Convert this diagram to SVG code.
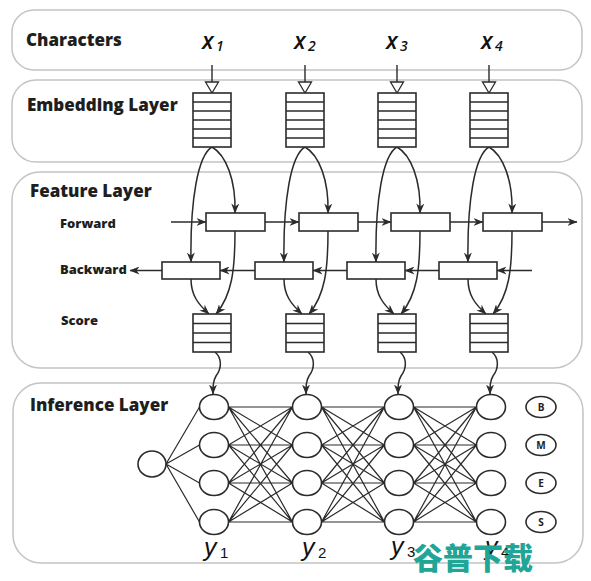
<svg xmlns="http://www.w3.org/2000/svg" width="591" height="581" viewBox="0 0 591 581">
<defs>
<style>
.panel{fill:#fff;stroke:#c4c4c4;stroke-width:1.5}
.lbl{font-family:"Open Sans","Liberation Sans",sans-serif;font-weight:800;fill:#1e1e1e}
.big{font-size:17px}
.sm{font-size:13px}
.box{fill:#fff;stroke:#2b2b2b;stroke-width:1.6}
.ln{fill:none;stroke:#2b2b2b;stroke-width:1.4}
.arr{fill:none;stroke:#2b2b2b;stroke-width:1.5;marker-end:url(#ah)}
.tri{fill:#fff;stroke:#2b2b2b;stroke-width:1.3}
.node{fill:#fff;stroke:#2b2b2b;stroke-width:1.6}
.mesh{fill:none;stroke:#2b2b2b;stroke-width:1.2}
.xv{font-family:"Open Sans","Liberation Sans",sans-serif;font-style:italic;font-weight:600;fill:#111}
.var{font-family:"Liberation Sans",Arial,sans-serif;font-style:italic;fill:#111}
.sub{font-family:"Liberation Sans",Arial,sans-serif;font-size:15px;fill:#111}
.st{font-family:"Open Sans","Liberation Sans",sans-serif;font-weight:bold;font-size:10px;fill:#1e1e1e;text-anchor:middle}
.wm{font-family:"Noto Sans CJK SC",sans-serif;font-weight:900;font-size:30px;fill:#21a597}
</style>
<marker id="ah" markerUnits="userSpaceOnUse" markerWidth="10" markerHeight="8" viewBox="0 0 10 8" refX="9.5" refY="4" orient="auto">
<path d="M0,0 L10,4 L0,8 L3,4 z" fill="#2b2b2b"/>
</marker>
</defs>
<rect width="591" height="581" fill="#fff"/>

<g id="panels">
<rect class="panel" x="12" y="10" width="570" height="60" rx="22"/>
<rect class="panel" x="12" y="80" width="570" height="82" rx="24"/>
<rect class="panel" x="12" y="172" width="570" height="196" rx="28"/>
<rect class="panel" x="13" y="383" width="570" height="180" rx="28"/>
<text class="lbl big" x="26" y="46">Characters</text>
<text class="lbl big" x="27" y="111">Embedding Layer</text>
<text class="lbl big" x="30" y="197">Feature Layer</text>
<text class="lbl sm" x="60" y="228">Forward</text>
<text class="lbl sm" x="60" y="274">Backward</text>
<text class="lbl sm" x="61" y="325">Score</text>
<text class="lbl big" x="30" y="411">Inference Layer</text>
</g>

<g id="connectors">
<path class="ln" d="M212 65V82M305 65V82M397 65V82M489 65V82"/>
<polygon class="tri" points="205.5,82 218.5,82 212,93"/>
<polygon class="tri" points="298.5,82 311.5,82 305,93"/>
<polygon class="tri" points="390.5,82 403.5,82 397,93"/>
<polygon class="tri" points="482.5,82 495.5,82 489,93"/>
<path class="arr" d="M212 147C198 155 190 200 191 262"/>
<path class="arr" d="M212 147C226 155 236 180 235 213"/>
<path class="arr" d="M305 147C291 155 283 200 284 262"/>
<path class="arr" d="M305 147C319 155 329 180 328 213"/>
<path class="arr" d="M397 147C383 155 375 200 376 262"/>
<path class="arr" d="M397 147C411 155 421 180 420 213"/>
<path class="arr" d="M489 147C475 155 467 200 468 262"/>
<path class="arr" d="M489 147C503 155 513 180 512 213"/>
<path class="arr" d="M171 222H206"/>
<path class="arr" d="M265 222H299"/>
<path class="arr" d="M358 222H391"/>
<path class="arr" d="M450 222H483"/>
<path class="arr" d="M542 222H577"/>
<path class="arr" d="M532 270.5H497"/>
<path class="arr" d="M439 270.5H405"/>
<path class="arr" d="M347 270.5H313"/>
<path class="arr" d="M255 270.5H220"/>
<path class="arr" d="M162 270.5H130"/>
<path class="arr" d="M235 231C235 270 232 295 216 314"/>
<path class="arr" d="M191 279C191 295 198 304 209 314"/>
<path class="arr" d="M328 231C328 270 325 295 309 314"/>
<path class="arr" d="M284 279C284 295 291 304 302 314"/>
<path class="arr" d="M420 231C420 270 417 295 401 314"/>
<path class="arr" d="M376 279C376 295 383 304 394 314"/>
<path class="arr" d="M512 231C512 270 509 295 493 314"/>
<path class="arr" d="M468 279C468 295 475 304 486 314"/>
<path class="arr" d="M215 352C222 358 222 368 216 376C213 381 213 386 213 394"/>
<path class="arr" d="M308 352C315 358 315 368 309 376C306 381 306 386 306 394"/>
<path class="arr" d="M400 352C407 358 407 368 401 376C398 381 398 386 398 394"/>
<path class="arr" d="M492 352C499 358 499 368 493 376C490 381 490 386 490 394"/>
<path class="mesh" d="M166 464L199.5 407M166 464L199.5 445M166 464L199.5 483M166 464L199.5 522"/>
<path class="mesh" d="M228.5 407L292.5 407M228.5 407L292.5 445M228.5 407L292.5 483M228.5 407L292.5 522M228.5 445L292.5 407M228.5 445L292.5 445M228.5 445L292.5 483M228.5 445L292.5 522M228.5 483L292.5 407M228.5 483L292.5 445M228.5 483L292.5 483M228.5 483L292.5 522M228.5 522L292.5 407M228.5 522L292.5 445M228.5 522L292.5 483M228.5 522L292.5 522"/>
<path class="mesh" d="M321.5 407L384.5 407M321.5 407L384.5 445M321.5 407L384.5 483M321.5 407L384.5 522M321.5 445L384.5 407M321.5 445L384.5 445M321.5 445L384.5 483M321.5 445L384.5 522M321.5 483L384.5 407M321.5 483L384.5 445M321.5 483L384.5 483M321.5 483L384.5 522M321.5 522L384.5 407M321.5 522L384.5 445M321.5 522L384.5 483M321.5 522L384.5 522"/>
<path class="mesh" d="M413.5 407L476.5 407M413.5 407L476.5 445M413.5 407L476.5 483M413.5 407L476.5 522M413.5 445L476.5 407M413.5 445L476.5 445M413.5 445L476.5 483M413.5 445L476.5 522M413.5 483L476.5 407M413.5 483L476.5 445M413.5 483L476.5 483M413.5 483L476.5 522M413.5 522L476.5 407M413.5 522L476.5 445M413.5 522L476.5 483M413.5 522L476.5 522"/>
</g>

<g id="x1"><text class="xv" x="202" y="49" font-size="23">x</text><text class="xv" x="216" y="51" font-size="14">1</text></g>
<g id="x2"><text class="xv" x="294" y="49" font-size="23">x</text><text class="xv" x="308" y="51" font-size="14">2</text></g>
<g id="x3"><text class="xv" x="386" y="49" font-size="23">x</text><text class="xv" x="400" y="51" font-size="14">3</text></g>
<g id="x4"><text class="xv" x="481" y="49" font-size="23">x</text><text class="xv" x="495" y="51" font-size="14">4</text></g>

<g id="emb1"><rect class="box" x="193" y="93" width="38" height="54"/><path class="ln" d="M193 102H231M193 111H231M193 120H231M193 129H231M193 138H231"/></g>
<g id="emb2"><rect class="box" x="286" y="93" width="38" height="54"/><path class="ln" d="M286 102H324M286 111H324M286 120H324M286 129H324M286 138H324"/></g>
<g id="emb3"><rect class="box" x="378" y="93" width="38" height="54"/><path class="ln" d="M378 102H416M378 111H416M378 120H416M378 129H416M378 138H416"/></g>
<g id="emb4"><rect class="box" x="470" y="93" width="38" height="54"/><path class="ln" d="M470 102H508M470 111H508M470 120H508M470 129H508M470 138H508"/></g>

<g id="fwd1"><rect class="box" x="206" y="213" width="59" height="18"/></g>
<g id="fwd2"><rect class="box" x="299" y="213" width="59" height="18"/></g>
<g id="fwd3"><rect class="box" x="391" y="213" width="59" height="18"/></g>
<g id="fwd4"><rect class="box" x="483" y="213" width="59" height="18"/></g>

<g id="bwd1"><rect class="box" x="162" y="262" width="58" height="17"/></g>
<g id="bwd2"><rect class="box" x="255" y="262" width="58" height="17"/></g>
<g id="bwd3"><rect class="box" x="347" y="262" width="58" height="17"/></g>
<g id="bwd4"><rect class="box" x="439" y="262" width="58" height="17"/></g>

<g id="score1"><rect class="box" x="193" y="314" width="38" height="38"/><path class="ln" d="M193 323.5H231M193 333H231M193 342.5H231"/></g>
<g id="score2"><rect class="box" x="286" y="314" width="38" height="38"/><path class="ln" d="M286 323.5H324M286 333H324M286 342.5H324"/></g>
<g id="score3"><rect class="box" x="378" y="314" width="38" height="38"/><path class="ln" d="M378 323.5H416M378 333H416M378 342.5H416"/></g>
<g id="score4"><rect class="box" x="470" y="314" width="38" height="38"/><path class="ln" d="M470 323.5H508M470 333H508M470 342.5H508"/></g>

<g id="start"><ellipse class="node" cx="152" cy="464" rx="14" ry="13"/></g>
<g id="col1">
<ellipse class="node" cx="214" cy="407" rx="14.5" ry="12.5"/>
<ellipse class="node" cx="214" cy="445" rx="14.5" ry="12.5"/>
<ellipse class="node" cx="214" cy="483" rx="14.5" ry="12.5"/>
<ellipse class="node" cx="214" cy="522" rx="14.5" ry="12.5"/>
</g>
<g id="col2">
<ellipse class="node" cx="307" cy="407" rx="14.5" ry="12.5"/>
<ellipse class="node" cx="307" cy="445" rx="14.5" ry="12.5"/>
<ellipse class="node" cx="307" cy="483" rx="14.5" ry="12.5"/>
<ellipse class="node" cx="307" cy="522" rx="14.5" ry="12.5"/>
</g>
<g id="col3">
<ellipse class="node" cx="399" cy="407" rx="14.5" ry="12.5"/>
<ellipse class="node" cx="399" cy="445" rx="14.5" ry="12.5"/>
<ellipse class="node" cx="399" cy="483" rx="14.5" ry="12.5"/>
<ellipse class="node" cx="399" cy="522" rx="14.5" ry="12.5"/>
</g>
<g id="col4">
<ellipse class="node" cx="491" cy="407" rx="14.5" ry="12.5"/>
<ellipse class="node" cx="491" cy="445" rx="14.5" ry="12.5"/>
<ellipse class="node" cx="491" cy="483" rx="14.5" ry="12.5"/>
<ellipse class="node" cx="491" cy="522" rx="14.5" ry="12.5"/>
</g>

<g id="tagB"><ellipse class="node" cx="541" cy="407" rx="15" ry="10.5"/><text class="st" x="541" y="410.5">B</text></g>
<g id="tagM"><ellipse class="node" cx="541" cy="445" rx="15" ry="10.5"/><text class="st" x="541" y="448.5">M</text></g>
<g id="tagE"><ellipse class="node" cx="541" cy="483" rx="15" ry="10.5"/><text class="st" x="541" y="486.5">E</text></g>
<g id="tagS"><ellipse class="node" cx="541" cy="522" rx="15" ry="10.5"/><text class="st" x="541" y="525.5">S</text></g>

<g id="y1"><text class="var" x="204" y="556" font-size="25">y</text><text class="sub" x="220" y="558">1</text></g>
<g id="y2"><text class="var" x="302" y="556" font-size="25">y</text><text class="sub" x="318" y="558">2</text></g>
<g id="y3"><text class="var" x="391" y="555" font-size="25">y</text><text class="sub" x="407" y="557">3</text></g>
<g id="y4"><text class="var" x="485" y="555" font-size="25">y</text><text class="sub" x="501" y="557">4</text></g>

<text class="wm" x="413" y="569">谷普下载</text>
</svg>
